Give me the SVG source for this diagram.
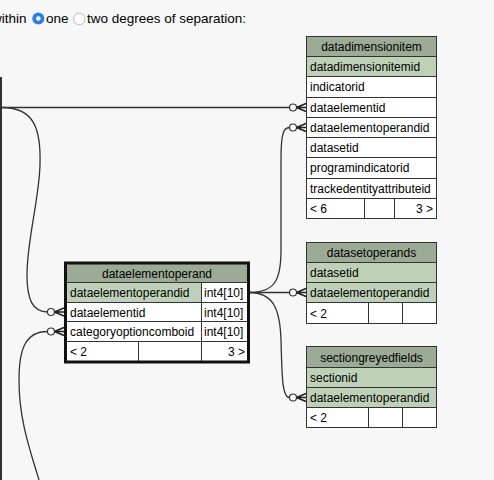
<svg xmlns="http://www.w3.org/2000/svg" xmlns:xlink="http://www.w3.org/1999/xlink" width="494" height="480" viewBox="0 0 494 480">
<style>
text{font-family:"Liberation Sans",Arial,Helvetica,sans-serif;font-size:12px;fill:#000}
.top{font-size:13.5px}
.hdr{fill:#9bab96;stroke:#333;stroke-width:1}
.pk{fill:#bed1b8;stroke:#333;stroke-width:1}
.row{fill:#fff;stroke:#333;stroke-width:1}
.ln{fill:none;stroke:#333;stroke-width:1.3}
.c{text-anchor:middle}
.r{text-anchor:end}
.outer{fill:none;stroke:#111;stroke-width:3}
</style>
<defs>
<g id="zm">
<circle cx="-13" cy="0" r="3.5" fill="#fff" stroke="#333" stroke-width="1.2"/>
<path d="M-9.5,0 L0,-4 M-9.5,0 L0,0 M-9.5,0 L0,4" fill="none" stroke="#222" stroke-width="1.6"/>
</g>
</defs>
<rect x="0" y="0" width="494" height="480" fill="#f7f7f7"/>

<g id="header">
<text class="top" x="-8" y="23">within</text>
<circle cx="38.3" cy="18.5" r="6" fill="#2b7de9"/>
<circle cx="38.3" cy="18.5" r="2.3" fill="#fff"/>
<text class="top" x="46" y="23">one</text>
<circle cx="79.3" cy="19" r="5.8" fill="#fff" stroke="#bbb" stroke-width="1"/>
<text class="top" x="87" y="23">two degrees of separation:</text>
</g>

<g id="left-table-edge">
<rect x="0" y="77" width="2" height="403" fill="#333"/>
</g>

<g id="connectors">
<path class="ln" d="M2,107.5 L289.5,107.5"/>
<path class="ln" d="M2,107.5 C35,107.5 41,130 40,165 C39,200 27,240 27,275 C27,300 33,312 47.5,312"/>
<path class="ln" d="M47.5,331.5 C25,331.5 19,350 19,380 C19,420 30,450 39,480"/>
<path class="ln" d="M249,292.5 C275,292.5 281,280 281,250 L281,160 C281,135 283,127.5 289.5,127.5"/>
<path class="ln" d="M249,292.5 L289.5,292.5"/>
<path class="ln" d="M249,292.5 C274,292.5 280,310 281,340 C282,375 282,397.5 289.5,397.5"/>
<use xlink:href="#zm" x="306" y="107.5"/>
<use xlink:href="#zm" x="306" y="127.5"/>
<use xlink:href="#zm" x="306" y="292.5"/>
<use xlink:href="#zm" x="306" y="397.5"/>
<use xlink:href="#zm" x="64" y="312"/>
<use xlink:href="#zm" x="64" y="331.5"/>
</g>

<g id="datadimensionitem">
<rect class="hdr" x="306.5" y="36.5" width="130" height="20"/>
<rect class="pk" x="306.5" y="56.5" width="130" height="20"/>
<rect class="row" x="306.5" y="76.5" width="130" height="21"/>
<rect class="row" x="306.5" y="97.5" width="130" height="20"/>
<rect class="row" x="306.5" y="117.5" width="130" height="20"/>
<rect class="row" x="306.5" y="137.5" width="130" height="20"/>
<rect class="row" x="306.5" y="157.5" width="130" height="21"/>
<rect class="row" x="306.5" y="178.5" width="130" height="20"/>
<rect class="row" x="306.5" y="198.5" width="130" height="20"/>
<path d="M364.5,198.5 V218.5 M394.5,198.5 V218.5" stroke="#333" stroke-width="1"/>
<text class="c" x="371.5" y="51">datadimensionitem</text>
<text x="310" y="71">datadimensionitemid</text>
<text x="310" y="91">indicatorid</text>
<text x="310" y="112">dataelementid</text>
<text x="310" y="132">dataelementoperandid</text>
<text x="310" y="152">datasetid</text>
<text x="310" y="172">programindicatorid</text>
<text x="310" y="193">trackedentityattributeid</text>
<text x="310" y="213">&lt; 6</text>
<text class="r" x="433" y="213">3 &gt;</text>
</g>

<g id="datasetoperands">
<rect class="hdr" x="306.5" y="242.5" width="130" height="20"/>
<rect class="pk" x="306.5" y="262.5" width="130" height="20"/>
<rect class="pk" x="306.5" y="282.5" width="130" height="20"/>
<rect class="row" x="306.5" y="302.5" width="130" height="21"/>
<path d="M368.5,302.5 V323.5 M402.5,302.5 V323.5" stroke="#333" stroke-width="1"/>
<text class="c" x="371.5" y="257">datasetoperands</text>
<text x="310" y="277">datasetid</text>
<text x="310" y="297">dataelementoperandid</text>
<text x="310" y="317.5">&lt; 2</text>
</g>

<g id="sectiongreyedfields">
<rect class="hdr" x="306.5" y="346.5" width="130" height="21"/>
<rect class="pk" x="306.5" y="367.5" width="130" height="20"/>
<rect class="pk" x="306.5" y="387.5" width="130" height="20"/>
<rect class="row" x="306.5" y="407.5" width="130" height="20"/>
<path d="M368.5,407.5 V427.5 M402.5,407.5 V427.5" stroke="#333" stroke-width="1"/>
<text class="c" x="371.5" y="361.5">sectiongreyedfields</text>
<text x="310" y="382">sectionid</text>
<text x="310" y="402">dataelementoperandid</text>
<text x="310" y="422">&lt; 2</text>
</g>

<g id="dataelementoperand">
<rect class="hdr" x="65.5" y="263" width="183" height="19.5"/>
<rect class="pk" x="65.5" y="282.5" width="136" height="20"/>
<rect class="row" x="201.5" y="282.5" width="47" height="20"/>
<rect class="row" x="65.5" y="302.5" width="136" height="19"/>
<rect class="row" x="201.5" y="302.5" width="47" height="19"/>
<rect class="row" x="65.5" y="321.5" width="136" height="20"/>
<rect class="row" x="201.5" y="321.5" width="47" height="20"/>
<rect class="row" x="65.5" y="341.5" width="183" height="20.5"/>
<path d="M138.5,341.5 V362 M201.5,341.5 V362" stroke="#333" stroke-width="1"/>
<rect class="outer" x="65.5" y="263" width="183" height="99"/>
<text class="c" x="157" y="277.5">dataelementoperand</text>
<text x="70" y="297">dataelementoperandid</text>
<text x="204" y="297">int4[10]</text>
<text x="70" y="316.5">dataelementid</text>
<text x="204" y="316.5">int4[10]</text>
<text x="70" y="336">categoryoptioncomboid</text>
<text x="204" y="336">int4[10]</text>
<text x="70" y="356">&lt; 2</text>
<text class="r" x="245" y="356">3 &gt;</text>
</g>
</svg>
